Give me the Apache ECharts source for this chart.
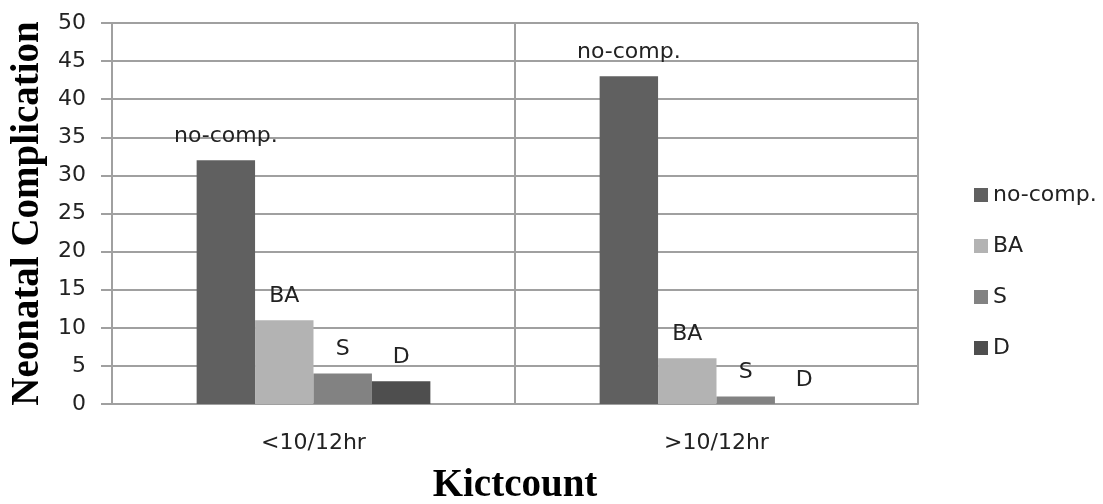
<!DOCTYPE html>
<html>
<head>
<meta charset="utf-8">
<script src="https://cdn.jsdelivr.net/npm/echarts@6/dist/echarts.min.js"></script>
<style>
html,body{margin:0;padding:0;background:#fff;}
#c{width:1103px;height:504px;}
</style>
</head>
<body>
<div id="c"></div>
<script>
const categories = ['<10/12hr', '>10/12hr'];
const seriesNames = ['no-comp.', 'BA', 'S', 'D'];
const noComp = [32, 43];
const ba = [11, 6];
const s = [4, 1];
const d = [3, 0];
const yTicks = { min: 0, max: 50, interval: 5 };

const colors = ['#606060', '#b3b3b3', '#828282', '#4e4e4e'];
const values = [noComp, ba, s, d];
const font = 'DejaVu Sans';

const chart = echarts.init(document.getElementById('c'));
chart.setOption({
  animation: false,
  backgroundColor: '#ffffff',
  grid: { left: 112, right: 185, top: 23, bottom: 100, containLabel: false, outerBoundsMode: 'none' },
  legend: {
    orient: 'vertical',
    left: 969,
    top: 179,
    itemWidth: 14,
    itemHeight: 14,
    itemGap: 29,
    icon: 'rect',
    itemStyle: { borderWidth: 0 },
    textStyle: { fontFamily: font, fontSize: 22, color: '#222' },
    data: seriesNames
  },
  xAxis: {
    type: 'category',
    data: categories,
    name: 'Kictcount',
    nameLocation: 'middle',
    nameGap: 62,
    nameTextStyle: { fontFamily: 'Liberation Serif', fontWeight: 'bold', fontSize: 39, color: '#000' },
    axisLine: { show: true, lineStyle: { color: '#a0a0a0', width: 2 } },
    axisTick: { show: false },
    axisLabel: { fontFamily: font, fontSize: 22, color: '#222', margin: 28 },
    splitLine: { show: true, lineStyle: { color: '#a0a0a0', width: 2 } }
  },
  yAxis: {
    type: 'value',
    min: yTicks.min,
    max: yTicks.max,
    interval: yTicks.interval,
    name: 'Neonatal Complication',
    nameLocation: 'middle',
    nameGap: 64,
    nameTextStyle: { fontFamily: 'Liberation Serif', fontWeight: 'bold', fontSize: 39, color: '#000' },
    axisLine: { show: true, lineStyle: { color: '#a0a0a0', width: 2 } },
    axisTick: { show: true, inside: false, length: 11, lineStyle: { color: '#a0a0a0', width: 2 } },
    axisLabel: { fontFamily: font, fontSize: 22, color: '#222', margin: 26 },
    splitLine: { show: true, lineStyle: { color: '#a0a0a0', width: 2 } }
  },
  series: seriesNames.map((n, i) => ({
    name: n,
    type: 'bar',
    data: values[i],
    barGap: '0%',
    barCategoryGap: '42%',
    itemStyle: { color: colors[i] },
    label: {
      show: true,
      position: 'top',
      distance: 13,
      formatter: n,
      fontFamily: font,
      fontSize: 22,
      color: '#222'
    }
  }))
});
</script>
</body>
</html>
